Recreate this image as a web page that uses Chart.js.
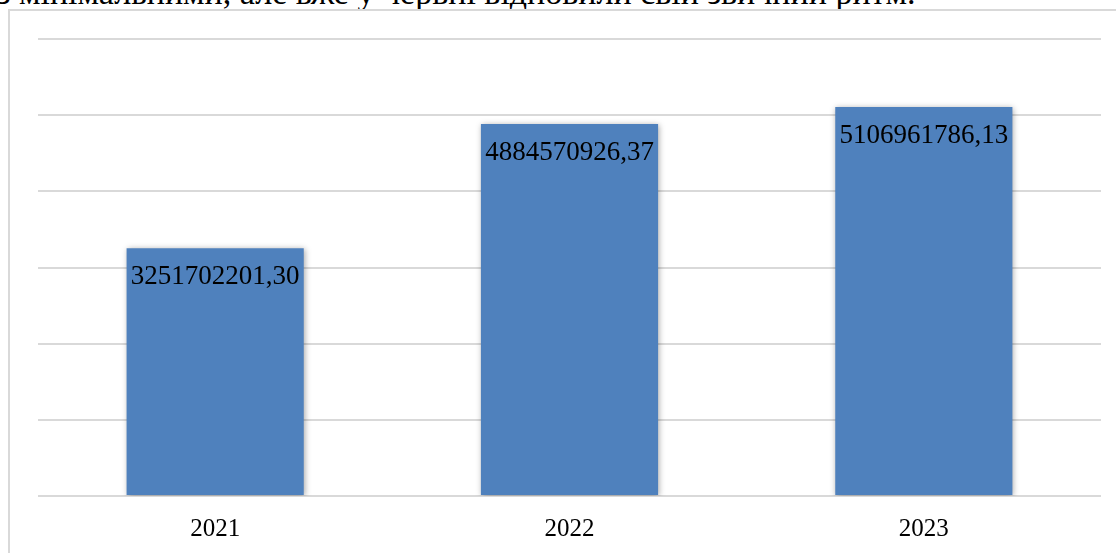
<!DOCTYPE html>
<html>
<head>
<meta charset="utf-8">
<script src="https://cdn.jsdelivr.net/npm/chart.js@4"></script>
<style>
  html, body { margin: 0; padding: 0; background: #fff; overflow: hidden; }
  #wrap { position: relative; width: 1116px; height: 553px; }
  #above {
    position: absolute; left: -3px; top: -26px; white-space: nowrap;
    font-family: "Liberation Serif", "Times New Roman", serif; font-size: 34px; color: #000;
  }
  #frame {
    position: absolute; left: 8px; top: 9px; width: 1120px; height: 560px;
    border: 2px solid #d9d9d9; box-sizing: border-box; background: #fff;
  }
  #chart { position: absolute; left: 0; top: 0; }
</style>
</head>
<body>
<div id="wrap">
  <div id="above">з мінімальними, але вже у червні відновили свій звичний ритм.</div>
  <div id="frame"></div>
  <canvas id="chart" width="1116" height="553"></canvas>
</div>
<script>
// Chart data
const YEARS = ["2021", "2022", "2023"];
const VALUES = [3251702201.30, 4884570926.37, 5106961786.13];
const VALUE_LABELS = ["3251702201,30", "4884570926,37", "5106961786,13"];
const Y_MAX = 6000000000;
const Y_STEP = 1000000000;

const BAR_COLOR = "#4f81bd";
const GRID_COLOR = "#d9d9d9";
const SERIF = "'Liberation Serif', 'Times New Roman', serif";

/**
 * Soft shadow around the bars, Excel style.
 */
const barShadow = {
  id: "barShadow",
  beforeDatasetDraw(chart) {
    const ctx = chart.ctx;
    ctx.save();
    ctx.shadowColor = "rgba(0,0,0,0.35)";
    ctx.shadowBlur = 6;
    ctx.shadowOffsetX = 1;
    ctx.shadowOffsetY = 1;
  },
  afterDatasetDraw(chart) {
    chart.ctx.restore();
  }
};

/**
 * Value labels inside the top of each bar.
 */
const valueLabels = {
  id: "valueLabels",
  afterDatasetsDraw(chart) {
    const ctx = chart.ctx;
    const meta = chart.getDatasetMeta(0);
    ctx.save();
    ctx.font = "27px " + SERIF;
    ctx.fillStyle = "#000";
    ctx.textAlign = "center";
    ctx.textBaseline = "middle";
    meta.data.forEach((bar, i) => {
      ctx.fillText(VALUE_LABELS[i], bar.x, bar.y + 29);
    });
    ctx.restore();
  }
};

new Chart(document.getElementById("chart").getContext("2d"), {
  type: "bar",
  data: {
    labels: YEARS,
    datasets: [{
      data: VALUES,
      backgroundColor: BAR_COLOR,
      borderWidth: 0,
      barPercentage: 0.5,
      categoryPercentage: 1.0
    }]
  },
  options: {
    responsive: false,
    animation: false,
    devicePixelRatio: 1,
    layout: { padding: { left: 38, right: 15, top: 39, bottom: 0 } },
    plugins: {
      legend: { display: false },
      tooltip: { enabled: false }
    },
    scales: {
      y: {
        min: 0,
        max: Y_MAX,
        ticks: { display: false, stepSize: Y_STEP },
        grid: { color: GRID_COLOR, lineWidth: 2, drawTicks: false },
        border: { display: false },
        afterFit: (scale) => { scale.width = 0; }
      },
      x: {
        ticks: { font: { family: SERIF, size: 25 }, color: "#000", padding: 18 },
        grid: { display: false, drawTicks: false },
        border: { display: false },
        afterFit: (scale) => { scale.height = 57; }
      }
    }
  },
  plugins: [barShadow, valueLabels]
});
</script>
</body>
</html>
